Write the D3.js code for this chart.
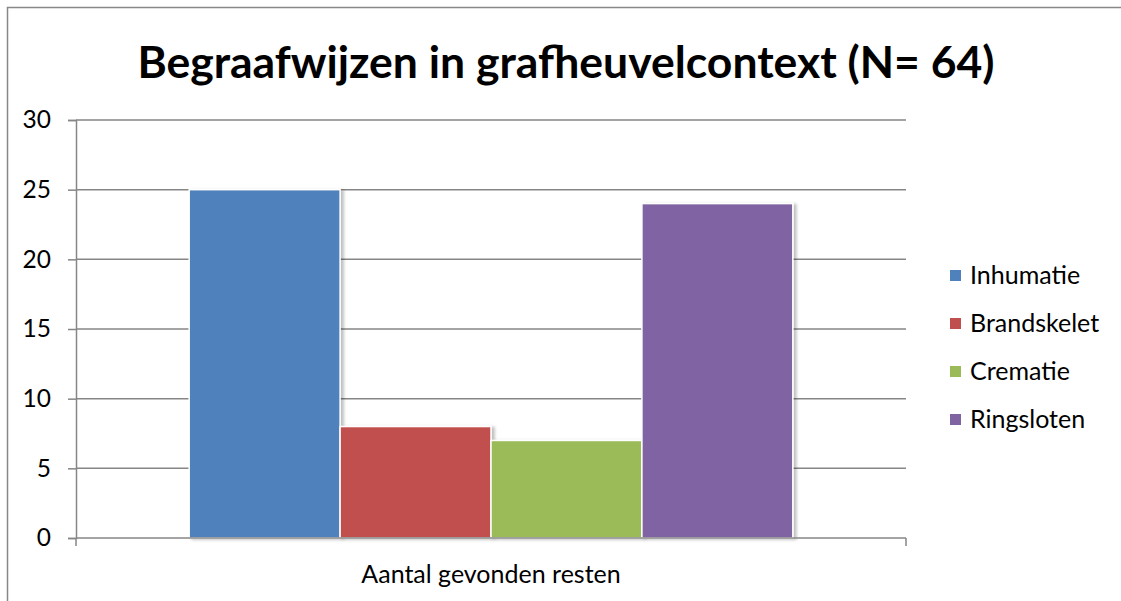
<!DOCTYPE html>
<html><head><meta charset="utf-8">
<script src="https://cdn.jsdelivr.net/npm/d3@7"></script>
<style>body{margin:0;background:#fff}svg{display:block}text{font-family:Lato,"Open Sans",sans-serif}</style>
</head><body>
<script>
const categories = ["Aantal gevonden resten"];
const series = ["Inhumatie", "Brandskelet", "Crematie", "Ringsloten"];
const values = [25, 8, 7, 24];
const yTicks = [0, 5, 10, 15, 20, 25, 30];
const colors = ["#4F81BD", "#C0504D", "#9BBB59", "#8064A2"];
const title = "Begraafwijzen in grafheuvelcontext (N= 64)";

(function(){
const W = 1121, H = 601;
const svg = d3.select("body").append("svg").attr("width", W).attr("height", H);
const defs = svg.append("defs");
const f = defs.append("filter").attr("id","sh").attr("x","-10%").attr("y","-10%").attr("width","130%").attr("height","130%");
f.append("feDropShadow").attr("dx",3).attr("dy",1).attr("stdDeviation",1.5).attr("flood-color","#000").attr("flood-opacity",0.25);

// outer border
svg.append("rect").attr("x",7.5).attr("y",7.5).attr("width",W+20).attr("height",H+20)
  .attr("fill","none").attr("stroke","#888").attr("stroke-width",1.5);

svg.append("text").attr("x",566).attr("y",78).attr("text-anchor","middle")
  .attr("font-size",44.5).attr("font-weight","bold").attr("fill","#000").text(title);

const pL = 76, pR = 906, pT = 120, pB = 538;
const y = d3.scaleLinear().domain([0,30]).range([pB, pT]);
const x0 = d3.scaleBand().domain(categories).range([pL, pR]);
const bw = x0.bandwidth();
const barW = bw / (series.length + 1.5);
const x1 = d3.scaleBand().domain(series).range([barW*0.75, bw - barW*0.75]);

// gridlines
svg.append("g").selectAll("line").data(yTicks.filter(t=>t>0)).join("line")
  .attr("x1",pL).attr("x2",pR).attr("y1",d=>y(d)).attr("y2",d=>y(d))
  .attr("stroke","#868686").attr("stroke-width",1.5);

// y axis
const ya = svg.append("g").attr("transform",`translate(${pL},0)`)
  .call(d3.axisLeft(y).tickValues(yTicks).tickSize(8).tickPadding(17));
ya.select(".domain").attr("stroke","#868686").attr("stroke-width",1.5);
ya.selectAll(".tick line").attr("stroke","#868686").attr("stroke-width",1.5);
ya.selectAll("text").attr("font-size",24.5).attr("fill","#000").attr("font-family","Lato, sans-serif");

// bars
const g = svg.append("g");
categories.forEach(c => {
  g.selectAll("rect.b").data(series).join("rect")
    .attr("x", s => x0(c) + x1(s))
    .attr("width", x1.bandwidth())
    .attr("y", (s,i) => y(values[i]))
    .attr("height", (s,i) => y(0) - y(values[i]))
    .attr("fill", (s,i) => colors[i])
    .attr("stroke","#fff").attr("stroke-width",1.5)
    .attr("filter","url(#sh)");
});

// x axis
const xa = svg.append("g").attr("transform",`translate(0,${pB})`)
  .call(d3.axisBottom(x0).tickSize(0).tickPadding(27));
xa.select(".domain").remove();
xa.selectAll("text").attr("font-size",25).attr("fill","#000").attr("font-family","Lato, sans-serif");
svg.append("line").attr("x1",pL).attr("x2",pR).attr("y1",pB).attr("y2",pB)
  .attr("stroke","#868686").attr("stroke-width",1.5);
[pL, pR].forEach(xx => svg.append("line").attr("x1",xx).attr("x2",xx).attr("y1",pB).attr("y2",pB+8)
  .attr("stroke","#868686").attr("stroke-width",1.5));

// legend
const lg = svg.append("g").selectAll("g").data(series).join("g")
  .attr("transform",(d,i)=>`translate(950,${275 + i*48})`);
lg.append("rect").attr("x",0).attr("y",-5).attr("width",11).attr("height",11).attr("fill",(d,i)=>colors[i]);
lg.append("text").attr("x",20).attr("y",0).attr("dy","0.35em").attr("font-size",25).attr("fill","#000").text(d=>d);
})();
</script>
</body></html>
